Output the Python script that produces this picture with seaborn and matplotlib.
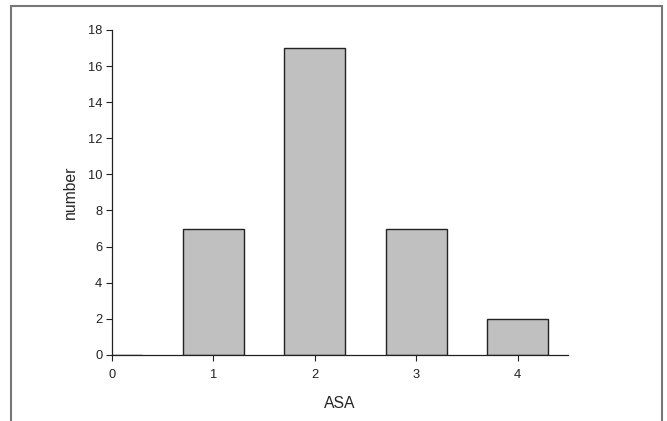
import pandas as pd
import seaborn as sns
import matplotlib.pyplot as plt
from matplotlib.patches import Rectangle

# ASA class and patient count
asa = [0, 1, 2, 3, 4]
number = [0, 7, 17, 7, 2]
y_ticks = [0, 2, 4, 6, 8, 10, 12, 14, 16, 18]

df = pd.DataFrame({"ASA": asa, "number": number})

sns.set_style("ticks")
plt.rcParams['font.family'] = ['Liberation Sans', 'DejaVu Sans']

fig = plt.figure(figsize=(6.67, 4.21), dpi=100)
ax = fig.add_axes([0.168, 0.157, 0.684, 0.772])

sns.barplot(data=df, x="ASA", y="number", native_scale=True, width=0.6,
            color="#c0c0c0", saturation=1, edgecolor="#222222", linewidth=1.0,
            errorbar=None, ax=ax)

ax.set_xlim(0, 4.5)
ax.set_ylim(0, 18)
ax.set_xticks(asa)
ax.set_yticks(y_ticks)
ax.tick_params(axis="both", labelsize=9.3, length=4, width=0.8, colors="#222222")
ax.tick_params(axis="x", pad=6)
ax.tick_params(axis="y", pad=3)
ax.set_xlabel("ASA", fontsize=11.3, labelpad=11)
ax.set_ylabel("number", fontsize=11.3, labelpad=7)

for side in ["top", "right"]:
    ax.spines[side].set_visible(False)
for side in ["left", "bottom"]:
    ax.spines[side].set_color("#222222")
    ax.spines[side].set_linewidth(0.9)

# gray frame around the picture, open at the bottom
fig.patches.append(Rectangle((0.0165, -0.05), 0.976, 1.036, transform=fig.transFigure,
                             fill=False, edgecolor="#777777", linewidth=1.5))

fig.savefig("out.png", dpi=100)
